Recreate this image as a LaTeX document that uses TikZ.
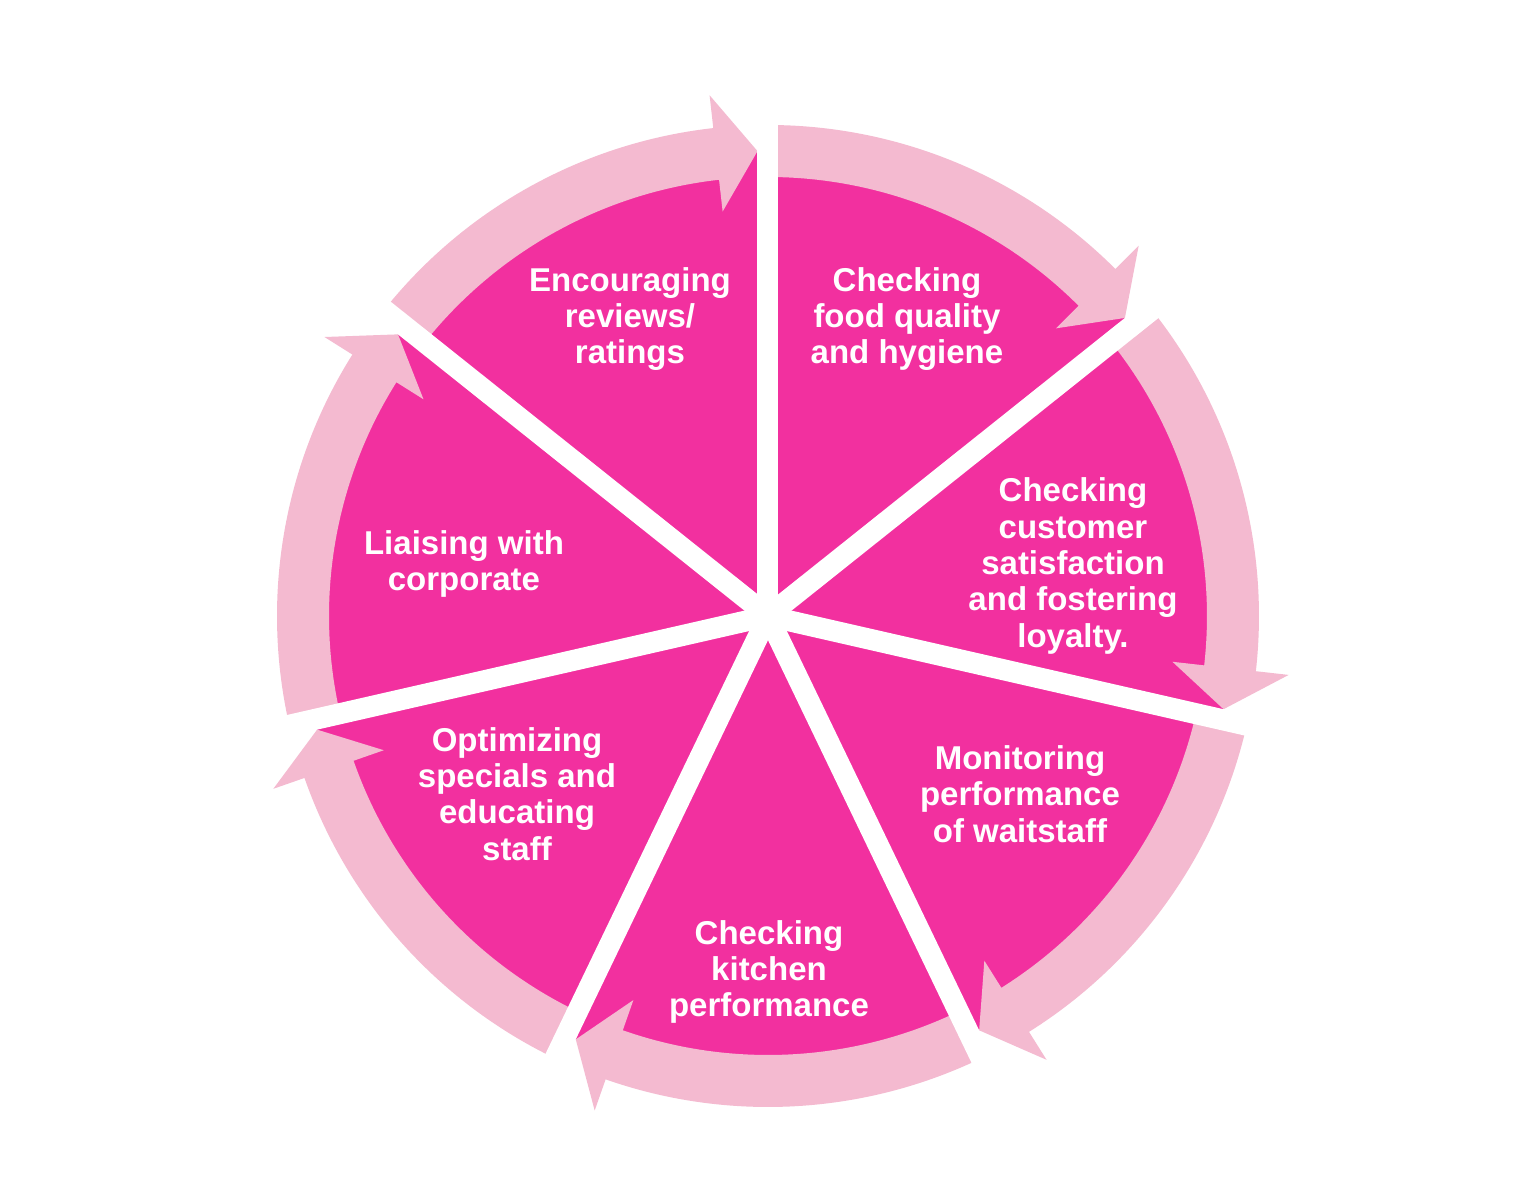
\documentclass[tikz,border=0pt]{standalone}
\usepackage{fontspec}
\setmainfont{Liberation Sans}
\definecolor{piecol}{HTML}{F2309F}
\definecolor{ringcol}{HTML}{F4BAD0}
\begin{document}
\begin{tikzpicture}[x=1pt,y=1pt,
  lbl/.style={text=white, font=\fontsize{33}{36.3}\selectfont\bfseries, align=center, inner sep=0pt},
  sep/.style={white, line width=21pt, line cap=butt}]
\useasboundingbox[fill=white] (-768,-577) rectangle (766,616);
\fill[piecol] (0,0) circle[radius=465pt];
\foreach \k in {0,...,6}{
  \pgfmathsetmacro{\s}{90-51.428571*\k}
  \pgfmathsetmacro{\e}{\s-51.428571}
  \pgfmathsetmacro{\t}{\e+1.294}
  \pgfmathsetmacro{\b}{\e+6.4}
  \fill[ringcol] (\s:491pt) arc[start angle=\s, end angle=\b, radius=491pt]
     -- (\b:524pt) -- (\t:465pt) -- (\b:407pt) -- (\b:439pt)
     arc[start angle=\b, end angle=\s, radius=439pt] -- cycle;
}
\foreach \k in {0,...,6}{
  \draw[sep] (0,0) -- ({90-51.428571*\k}:500pt);
}
\node[lbl] (n1) at (-138,297) {Encouraging\\reviews/\\ratings};
\node[lbl] (n2) at (139,297) {Checking\\food quality\\and hygiene};
\node[lbl] (n3) at (305,50) {Checking\\customer\\satisfaction\\and fostering\\loyalty.};
\node[lbl] (n4) at (252,-178) {Monitoring\\performance\\of waitstaff};
\node[lbl] (n5) at (1,-356) {Checking\\kitchen\\performance};
\node[lbl] (n6) at (-251,-178) {Optimizing\\specials and\\educating\\staff};
\node[lbl] (n7) at (-304,52) {Liaising with\\corporate};
\end{tikzpicture}
\end{document}
